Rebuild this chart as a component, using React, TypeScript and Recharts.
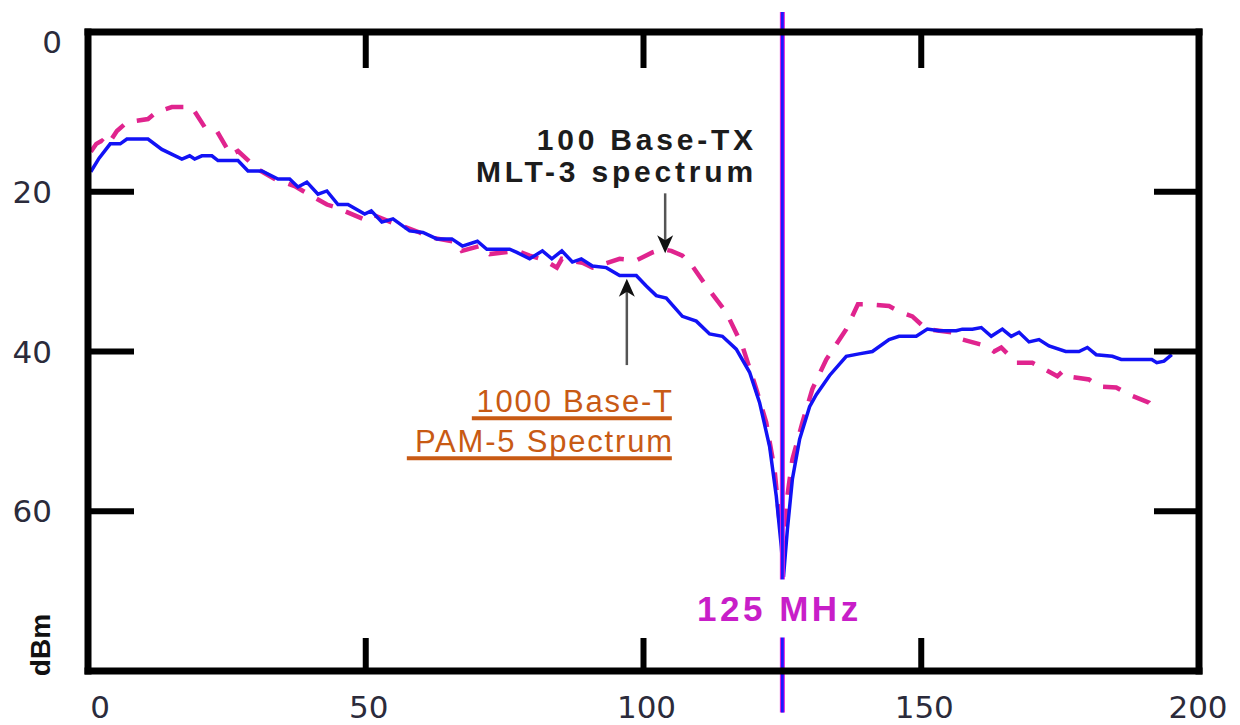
import { LineChart, Line, XAxis, YAxis, ReferenceLine, ReferenceDot } from 'recharts';

// 1000 Base-T PAM-5 spectrum (solid blue)
const pamFreq = [
  0.5, 2, 4, 5.8, 7, 10.8, 13.3, 16.9, 18.3, 19.2, 20.5, 22.3, 23.4, 27, 28.8, 31.3, 34.2, 36.3, 37.8, 39.4,
  41.4, 43, 45, 46.8, 49.8, 51, 52.9, 54.9, 57.9, 60.3, 62.8, 65.5, 67.4, 70.1, 71.8, 75.9, 77.2, 79.5, 81.8, 83.5,
  85.3, 87.2, 88.8, 90.8, 93.3, 95.7, 98.7, 100.5, 102.3, 104.1, 107, 109.5, 111.9, 114.2, 116.7, 119.1, 120.9, 122.7, 123.9, 124.8,
  125.2, 125.9, 126.8, 128.1, 129.9, 131.1, 133.5, 136.5, 138.8, 141.2, 144.2, 146, 149.1, 151.1, 153.2, 156.3, 157.4, 159.2, 160.8, 162.6,
  164.6, 166.2, 167.6, 169.4, 171.2, 173, 176, 178.4, 179.9, 181.5, 184.4, 186, 191.5, 192.4, 193.7, 195.1,
];
const pamLevel = [
  17.5, 15.8, 14.0, 14.0, 13.4, 13.4, 14.7, 15.9, 15.5, 15.9, 15.5, 15.5, 16.1, 16.1, 17.4, 17.4, 18.4, 18.4, 19.4, 18.8,
  20.3, 19.9, 21.6, 21.6, 22.8, 22.4, 23.8, 23.4, 24.9, 25.1, 25.9, 25.9, 26.8, 26.2, 27.2, 27.2, 27.6, 28.4, 27.4, 28.4,
  27.4, 28.8, 28.4, 29.3, 29.5, 30.5, 30.5, 31.8, 33.0, 33.3, 35.6, 36.2, 37.8, 38.1, 39.7, 42.6, 46.4, 51.9, 58.1, 64.4,
  68.2, 62.3, 56.0, 51.0, 46.9, 45.4, 43.0, 40.6, 40.3, 40.0, 38.5, 38.1, 38.1, 37.2, 37.4, 37.4, 37.2, 37.2, 37.0, 38.1,
  37.2, 38.1, 37.6, 38.8, 38.5, 39.3, 40.0, 40.0, 39.5, 40.4, 40.6, 41.0, 41.0, 41.4, 41.2, 40.4,
];

// 100 Base-TX MLT-3 spectrum (dashed magenta)
const mltFreq = [
  0.5, 1.5, 2.5, 3.5, 5.2, 7, 10.8, 12.4, 15.1, 18.7, 21, 23.2, 25.7, 27, 30.6, 33.6, 37.2, 38.7, 43, 44.4,
  49.5, 51, 54.5, 57, 59.7, 61.5, 66.4, 67.3, 70.5, 72.3, 77.2, 79.5, 82, 84.4, 85.3, 89, 90.8, 93, 95.7, 98.7,
  101.6, 103.4, 105, 107, 108.8, 111.3, 114.9, 117.8, 120.3, 122.1, 123.6, 124.5, 125.1, 125.9, 126.8, 128.6, 130.4, 132.9, 136.5, 138.6,
  140.3, 144.2, 146.3, 148.4, 150.9, 155.6, 157.4, 161.7, 163.1, 164.4, 167.1, 170, 174.5, 175.4, 176.3, 180.2, 182, 185.1, 187.4, 191,
  192.4,
];
const mltLevel = [
  15.0, 14.0, 13.6, 14.2, 12.4, 11.3, 10.9, 10.0, 9.4, 9.4, 11.9, 12.4, 15.4, 14.9, 17.2, 18.4, 19.3, 19.9, 21.6, 21.9,
  23.4, 22.8, 23.8, 24.4, 25.1, 25.7, 26.3, 27.4, 26.8, 27.8, 27.4, 28.0, 28.5, 29.5, 28.4, 28.9, 29.5, 29.0, 28.4, 28.6,
  27.6, 27.2, 27.4, 28.0, 29.3, 31.8, 35.1, 39.3, 44.7, 48.9, 54.8, 61.4, 64.5, 58.1, 53.5, 48.9, 44.7, 41.0, 37.2, 34.1,
  34.1, 34.3, 35.1, 35.6, 37.2, 37.6, 38.5, 39.3, 40.0, 39.5, 41.4, 41.4, 43.1, 42.5, 43.1, 43.5, 44.4, 44.5, 45.4, 46.4,
  47.5,
];

const freqTicks = [0, 50, 100, 150, 200];
const innerFreqTicks = [50, 100, 150, 200];
const levelTicks = [0, 20, 40, 60];
const innerLevelTicks = [20, 40, 60];

const pamData = pamFreq.map((f, i) => ({ f, dbm: pamLevel[i] }));
const mltData = mltFreq.map((f, i) => ({ f, dbm: mltLevel[i] }));

const tickColor = '#2b2b3b';
const frameLine = { stroke: '#000', strokeWidth: 7, strokeLinecap: 'square' as const };
const innerTick = { stroke: '#000', strokeWidth: 6 };

const NoLabel = () => <g />;

const FreqTick = (props: any) => {
  const { x, y, payload } = props;
  const shift = payload.value === 0 ? 12 : payload.value === 200 ? -1 : 3;
  return (
    <text x={x + shift} y={y + 23} textAnchor="middle" fontFamily="DejaVu Sans" fontSize={31} fill={tickColor}>
      {payload.value}
    </text>
  );
};

const LevelTick = (props: any) => {
  const { x, y, payload } = props;
  const first = payload.value === 0;
  return (
    <text x={x + (first ? 10 : 0)} y={y + (first ? 10 : 0)} dy="0.36em" textAnchor="end" fontFamily="DejaVu Sans" fontSize={31} fill={tickColor}>
      {payload.value}
    </text>
  );
};

const DbmLabel = (props: any) => {
  const vb = props.viewBox || { x: 0, y: 32, width: 88, height: 639 };
  const cx = vb.x + 40;
  const cy = vb.y + vb.height - 26;
  return (
    <text x={cx} y={cy} transform={`rotate(-90, ${cx}, ${cy})`} textAnchor="middle" dominantBaseline="central"
      fontFamily="Liberation Sans" fontWeight="bold" fontSize={28} fill="#111">
      dBm
    </text>
  );
};

const MltText = ({ cx, cy }: any) => (
  <g fontFamily="Liberation Sans" fontWeight="bold" fontSize={30} fill="#1c1c1c" letterSpacing={3.8}>
    <text x={cx + 4} y={cy} textAnchor="end">100 Base-TX</text>
    <text x={cx + 4} y={cy + 32} textAnchor="end">MLT-3 spectrum</text>
  </g>
);

const PamText = ({ cx, cy }: any) => (
  <g>
    <g fontFamily="Liberation Sans" fontSize={31} fill="#c85a14" letterSpacing={1.8}>
      <text x={cx + 2} y={cy} textAnchor="end">1000 Base-T</text>
      <text x={cx + 2} y={cy + 40} textAnchor="end">PAM-5 Spectrum</text>
    </g>
    <line x1={cx - 200} x2={cx} y1={cy + 6} y2={cy + 6} stroke="#c85a14" strokeWidth={4} />
    <line x1={cx - 265} x2={cx} y1={cy + 46} y2={cy + 46} stroke="#c85a14" strokeWidth={4} />
  </g>
);

const MhzText = ({ cx, cy }: any) => (
  <g>
    <rect x={cx - 88} y={cy - 42} width={176} height={58} fill="#fff" />
    <text x={cx + 2} y={cy} textAnchor="middle" fontFamily="Liberation Sans" fontWeight="bold" fontSize={35}
      fill="#c81ec8" letterSpacing={3.5}>
      125 MHz
    </text>
  </g>
);

const HeadDown = ({ cx, cy }: any) => (
  <polygon points={`${cx - 8},${cy - 18} ${cx},${cy} ${cx + 8},${cy - 18} ${cx},${cy - 13}`} fill="#111" />
);

const HeadUp = ({ cx, cy }: any) => (
  <polygon points={`${cx - 8},${cy + 18} ${cx},${cy} ${cx + 8},${cy + 18} ${cx},${cy + 13}`} fill="#111" />
);

// negative tick sizes turn the tick marks inward, like the original plot frame.
// the top/right axes carry the dashed series so that they get ticks of their own.
const SpectrumChart = () => (
  <LineChart width={1240} height={725} margin={{ top: 26, right: 35, bottom: 0, left: 0 }}>
    <XAxis type="number" dataKey="f" domain={[0, 200]} ticks={freqTicks} allowDataOverflow
      height={54} tickSize={-33} tickMargin={57} tickLine={innerTick} axisLine={frameLine} tick={<FreqTick />} />
    <XAxis xAxisId="top" orientation="top" type="number" dataKey="f" domain={[0, 200]} ticks={innerFreqTicks} allowDataOverflow
      height={6} tickSize={-36} tickMargin={0} tickLine={innerTick} axisLine={frameLine} tick={<NoLabel />} />
    <YAxis type="number" domain={[0, 80]} reversed ticks={levelTicks} allowDataOverflow width={88}
      tickSize={-46} tickMargin={82} tickLine={innerTick} axisLine={frameLine} tick={<LevelTick />} label={DbmLabel} />
    <YAxis yAxisId="right" orientation="right" type="number" domain={[0, 80]} reversed ticks={innerLevelTicks} allowDataOverflow
      width={6} tickSize={-45} tickMargin={0} tickLine={innerTick} axisLine={frameLine} tick={<NoLabel />} />

    <Line data={mltData} dataKey="dbm" xAxisId="top" yAxisId="right" type="linear" stroke="#e0248e" strokeWidth={4.5}
      strokeDasharray="18 14" dot={false} activeDot={false} isAnimationActive={false} />
    <Line data={pamData} dataKey="dbm" type="linear" stroke="#1212f5" strokeWidth={3.5}
      dot={false} activeDot={false} isAnimationActive={false} />

    <ReferenceLine segment={[{ x: 125, y: -2.5 }, { x: 125, y: 85.2 }]} ifOverflow="visible" stroke="#e020d8" strokeWidth={5} />
    <ReferenceLine segment={[{ x: 125, y: -2.5 }, { x: 125, y: 85.2 }]} ifOverflow="visible" stroke="#1a1aff" strokeWidth={2.8} />

    <ReferenceLine segment={[{ x: 103.9, y: 20.2 }, { x: 103.9, y: 26.5 }]} stroke="#555" strokeWidth={2.5} />
    <ReferenceDot x={103.9} y={27.7} shape={HeadDown} />
    <ReferenceLine segment={[{ x: 97, y: 41.7 }, { x: 97, y: 32 }]} stroke="#555" strokeWidth={2.5} />
    <ReferenceDot x={97} y={30.9} shape={HeadUp} />

    <ReferenceDot x={119.7} y={14.8} shape={MltText} />
    <ReferenceDot x={105.1} y={47.6} shape={PamText} />
    <ReferenceDot x={124.1} y={73.8} ifOverflow="visible" shape={MhzText} />
  </LineChart>
);

export default function App() {
  return (
    <div style={{ position: 'absolute', left: 0, top: 0, width: 1240, height: 725, background: '#fff' }}>
      <SpectrumChart />
    </div>
  );
}
